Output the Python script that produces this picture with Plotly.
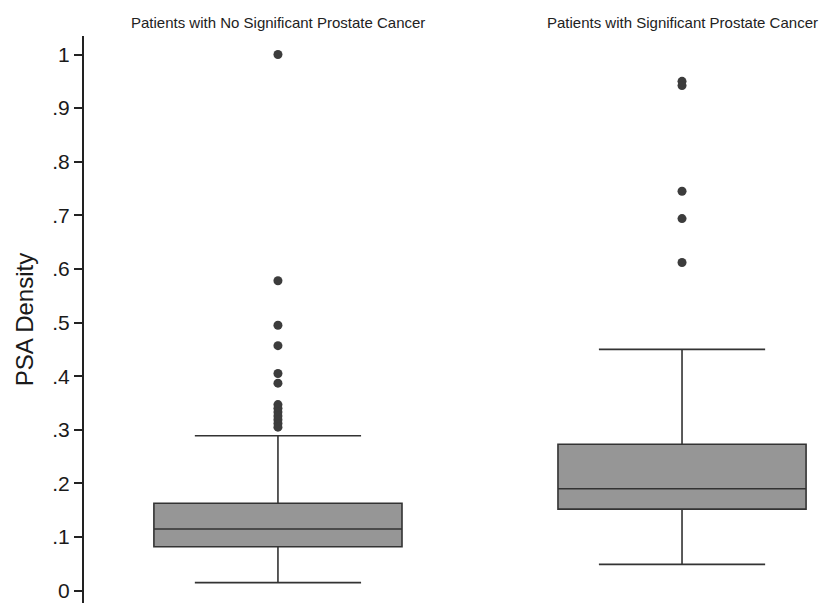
import plotly.graph_objects as go

groups = ["Patients with No Significant Prostate Cancer", "Patients with Significant Prostate Cancer"]
group_pos = [0, 1]
q1 = [0.082, 0.152]
median = [0.115, 0.190]
q3 = [0.163, 0.273]
lower_whisker = [0.015, 0.049]
upper_whisker = [0.289, 0.450]
outliers_no = [1.0, 0.578, 0.495, 0.457, 0.405, 0.387, 0.347, 0.340, 0.333, 0.326, 0.319, 0.312, 0.305]
outliers_sig = [0.950, 0.942, 0.745, 0.694, 0.612]
y_ticks = [0, 0.1, 0.2, 0.3, 0.4, 0.5, 0.6, 0.7, 0.8, 0.9, 1.0]
y_ticklabels = ["0", ".1", ".2", ".3", ".4", ".5", ".6", ".7", ".8", ".9", "1"]

fig = go.Figure()
for i in range(2):
    fig.add_trace(go.Box(
        x=[group_pos[i]], q1=[q1[i]], median=[median[i]], q3=[q3[i]],
        lowerfence=[lower_whisker[i]], upperfence=[upper_whisker[i]],
        width=0.614, whiskerwidth=0.67,
        fillcolor="#969696", line=dict(color="#333333", width=1.6),
        boxpoints=False, showlegend=False, hoverinfo="y"))

for pos, pts in zip(group_pos, [outliers_no, outliers_sig]):
    fig.add_trace(go.Scatter(
        x=[pos] * len(pts), y=pts, mode="markers",
        marker=dict(color="#3c3c3c", size=9), showlegend=False))

for pos, title in zip(group_pos, groups):
    fig.add_annotation(x=pos, y=1, xref="x", yref="paper", yshift=3,
                       yanchor="bottom", text=title, showarrow=False,
                       font=dict(size=15, color="#222222"))

fig.update_layout(
    width=819, height=603,
    margin=dict(l=84, r=0, t=36, b=0),
    paper_bgcolor="white", plot_bgcolor="white",
    font=dict(family="Liberation Sans, Arial, sans-serif", color="#222222"),
    xaxis=dict(range=[-0.48, 1.339], visible=False, fixedrange=True),
    yaxis=dict(range=[-0.023, 1.0345], tickvals=y_ticks, ticktext=y_ticklabels,
               showgrid=False, zeroline=False, showline=True, linecolor="#222222",
               linewidth=2, ticks="outside", ticklen=8, tickwidth=1.5, tickcolor="#222222",
               tickfont=dict(size=21, color="#1a1a1a"),
               title=dict(text="PSA Density", font=dict(size=24, color="#1a1a1a"), standoff=12)),
)
fig.write_html("out.html", config={"displayModeBar": False},
               post_script="document.body.style.margin='0';document.body.style.overflow='hidden';")
